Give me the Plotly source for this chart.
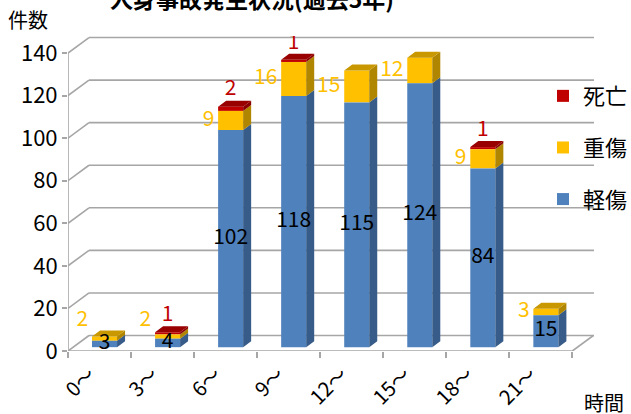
import plotly.graph_objects as go

# ---------------- data ----------------
categories = ["0～", "3～", "6～", "9～", "12～", "15～", "18～", "21～"]
minor_inj = [3, 4, 102, 118, 115, 124, 84, 15]     # 軽傷
serious_inj = [2, 2, 9, 16, 15, 12, 9, 3]         # 重傷
deaths = [0, 1, 2, 1, 0, 0, 1, 0]                 # 死亡
series_names = ["軽傷", "重傷", "死亡"]
y_ticks = [0, 20, 40, 60, 80, 100, 120, 140]
title_text = "人身事故発生状況(過去5年)"

# ---------------- style / geometry ----------------
FONT = "Noto Sans CJK JP"
front_cols = ["#4F81BD", "#FFC000", "#C00000"]
side_cols = ["#375C89", "#B08500", "#8A0000"]
top_cols = ["#3E6899", "#C99700", "#990000"]
label_cols = ["#000000", "#FFC000", "#C00000"]
GRID = "#A6A6A6"

BAR_OFF, BAR_W = -0.119, 0.397      # front face position relative to category
DX, DY = 0.127, 2.82                # bar depth projection (x units, y units)
BASE = 1.8                          # bars stand at mid depth of the floor
WX, WY = 0.333, 7.28                # wall depth projection
XMAX = len(categories) - 0.5 + WX + 0.01
YMAX = 148.0

series = [minor_inj, serious_inj, deaths]
n = len(categories)
idx = list(range(n))

fig = go.Figure()

# cumulative bases
bases = []
cum = [BASE] * n
for s in series:
    bases.append(cum[:])
    cum = [c + v for c, v in zip(cum, s)]
tops_total = cum

# front faces (added top series first so the legend lists 死亡, 重傷, 軽傷)
for k in reversed(range(len(series))):
    s = series[k]
    fig.add_trace(go.Bar(
        x=idx, y=s, base=bases[k], name=series_names[k],
        offset=BAR_OFF, width=BAR_W,
        marker=dict(color=front_cols[k], line=dict(width=0)),
        legendgroup=series_names[k], showlegend=True, hoverinfo="skip",
    ))

# side faces
for k, s in enumerate(series):
    xs, ys = [], []
    for i in idx:
        if s[i] <= 0:
            continue
        xr = i + BAR_OFF + BAR_W
        b = bases[k][i]
        t = b + s[i]
        xs += [xr, xr + DX, xr + DX, xr, xr, None]
        ys += [b, b + DY, t + DY, t, b, None]
    fig.add_trace(go.Scatter(x=xs, y=ys, mode="lines", fill="toself",
                             fillcolor=side_cols[k], line=dict(width=0),
                             showlegend=False, hoverinfo="skip",
                             legendgroup=series_names[k]))

# top faces (topmost nonzero segment)
top_x = [[] for _ in series]
top_y = [[] for _ in series]
for i in idx:
    kk = max(k for k, s in enumerate(series) if s[i] > 0)
    xl = i + BAR_OFF
    xr = xl + BAR_W
    t = tops_total[i]
    top_x[kk] += [xl, xl + DX, xr + DX, xr, xl, None]
    top_y[kk] += [t, t + DY, t + DY, t, t, None]
for k in range(len(series)):
    if top_x[k]:
        fig.add_trace(go.Scatter(x=top_x[k], y=top_y[k], mode="lines", fill="toself",
                                 fillcolor=top_cols[k], line=dict(width=0),
                                 showlegend=False, hoverinfo="skip",
                                 legendgroup=series_names[k]))

# data labels
LBL = 21
cx = [i + BAR_OFF + BAR_W / 2 for i in idx]
fig.add_trace(go.Scatter(
    x=cx, y=[bases[0][i] + minor_inj[i] / 2 for i in idx],
    mode="text", text=[str(v) for v in minor_inj], textposition="middle center",
    textfont=dict(family=FONT, size=LBL, color=label_cols[0]),
    showlegend=False, hoverinfo="skip"))
fig.add_trace(go.Scatter(
    x=[i + BAR_OFF - 0.06 for i in idx],
    y=[max(bases[1][i] + serious_inj[i] / 2, 14) for i in idx],
    mode="text", text=[str(v) for v in serious_inj], textposition="middle left",
    textfont=dict(family=FONT, size=LBL, color=label_cols[1]),
    showlegend=False, hoverinfo="skip"))
d_idx = [i for i in idx if deaths[i] > 0]
fig.add_trace(go.Scatter(
    x=[cx[i] for i in d_idx], y=[tops_total[i] + DY for i in d_idx],
    mode="text", text=[str(deaths[i]) for i in d_idx], textposition="top center",
    textfont=dict(family=FONT, size=LBL, color=label_cols[2]),
    showlegend=False, hoverinfo="skip"))

# ---------------- 3D frame ----------------
shapes = []
line = dict(color=GRID, width=1.6)
for v in y_ticks:
    shapes.append(dict(type="line", xref="x", yref="y", x0=-0.5 + WX, x1=XMAX,
                       y0=v + WY, y1=v + WY, line=line, layer="below"))
    shapes.append(dict(type="line", xref="x", yref="y", x0=-0.5, x1=-0.5 + WX,
                       y0=v, y1=v + WY, line=line, layer="below"))
shapes.append(dict(type="line", xref="x", yref="y", x0=-0.5, x1=-0.5,
                   y0=0, y1=y_ticks[-1], line=line, layer="below"))
shapes.append(dict(type="line", xref="x", yref="y", x0=-0.5, x1=n - 0.5,
                   y0=0, y1=0, line=line, layer="below"))
shapes.append(dict(type="line", xref="x", yref="y", x0=n - 0.5, x1=n - 0.5 + WX,
                   y0=0, y1=WY, line=line, layer="below"))

fig.update_layout(
    width=631, height=414,
    margin=dict(l=68, r=37, t=36, b=63, autoexpand=False),
    paper_bgcolor="white", plot_bgcolor="rgba(0,0,0,0)",
    barmode="overlay",
    font=dict(family=FONT, color="black"),
    shapes=shapes,
    showlegend=True,
    legend=dict(x=0.903, xanchor="left", y=0.876, yanchor="top",
                traceorder="grouped", tracegroupgap=20,
                bgcolor="rgba(0,0,0,0)", font=dict(family=FONT, size=22)),
    xaxis=dict(range=[-0.5, XMAX], tickmode="array", tickvals=idx, ticktext=categories,
               tickangle=-45, ticks="", showgrid=False, zeroline=False, showline=False,
               tickfont=dict(family=FONT, size=20), automargin=False,
               ticklabelshift=-10, ticklabelstandoff=7,
               minor=dict(tickmode="array", tickvals=[i - 0.5 for i in range(n + 1)],
                          ticks="outside", ticklen=6, tickcolor=GRID, tickwidth=1.6)),
    yaxis=dict(range=[0, YMAX], tickmode="array", tickvals=y_ticks,
               ticks="outside", ticklen=5, tickcolor=GRID, tickwidth=1.6,
               showgrid=False, zeroline=False, showline=False,
               tickfont=dict(family=FONT, size=22), automargin=False),
    annotations=[
        dict(text=title_text, xref="paper", yref="paper", x=0.35, y=1.12,
             xanchor="center", yanchor="middle", showarrow=False,
             font=dict(family=FONT, size=23, color="black", weight="bold")),
        dict(text="件数", xref="paper", yref="paper", x=-0.076, y=1.051,
             xanchor="center", yanchor="middle", showarrow=False,
             font=dict(family=FONT, size=20, color="black")),
        dict(text="時間", xref="paper", yref="paper", x=1.019, y=-0.162,
             xanchor="center", yanchor="middle", showarrow=False,
             font=dict(family=FONT, size=20, color="black")),
    ],
)

fig.write_html("out.html", config={"displayModeBar": False},
               post_script="document.body.style.margin='0';document.body.style.overflow='hidden';")
